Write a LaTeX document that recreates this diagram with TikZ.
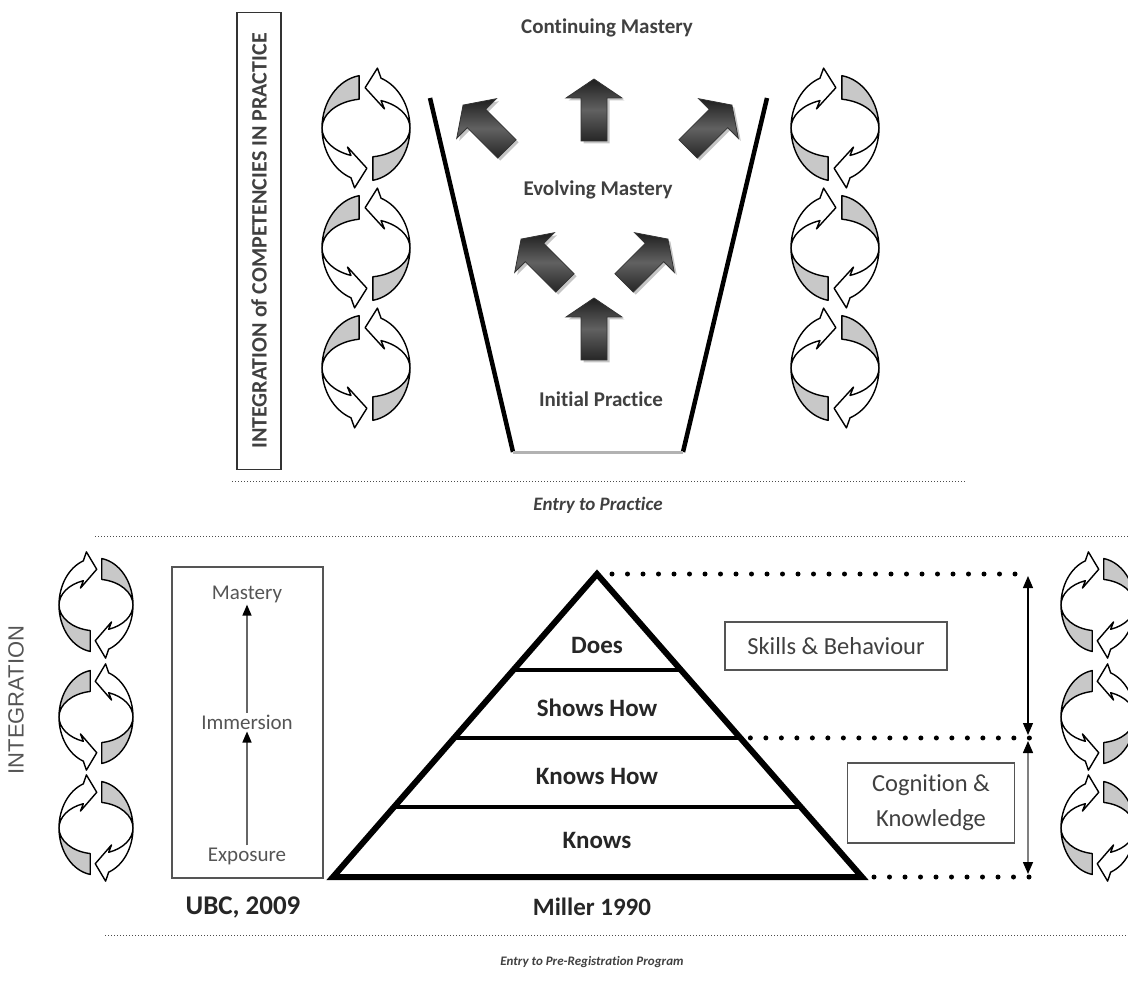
\documentclass[tikz,border=0pt]{standalone}
\usepackage{fontspec}
\setmainfont{Carlito}[Ligatures=NoCommon]
\newfontfamily\arialfont{Liberation Sans}
\usetikzlibrary{arrows.meta,calc,shadows}
\definecolor{bandgray}{RGB}{200,200,200}
\definecolor{textgray}{RGB}{64,64,64}
\definecolor{softgray}{RGB}{85,85,85}

\tikzset{
  pics/cycle/.style n args={3}{code={
    \begin{scope}[xscale=#3, x=#1pt, y=#2pt, line width=1.4pt, line join=round]
      \foreach \r in {0,180}{
        \begin{scope}[rotate=\r]
          \filldraw[fill=bandgray] (99:1) arc[start angle=99, end angle=180, radius=1]
            arc[start angle=180, end angle=99, x radius=1, y radius=0.55] -- cycle;
          \filldraw[fill=white] (180:1) arc[start angle=180, end angle=250, radius=1]
            -- (-0.26,-1.13) -- (0.02,-0.76) -- (-0.42,-0.36) -- (-0.342,-0.517)
            arc[start angle=250, end angle=180, x radius=1, y radius=0.55] -- cycle;
        \end{scope}
      }
    \end{scope}
  }},
  pics/blockarrow/.style={code={
    \begin{scope}[rotate=#1, x=1pt, y=1pt]
      \shade[top color=black!88, bottom color=black!85, middle color=black!62,
        draw=black!80, line width=0.8pt,
        drop shadow={shadow xshift=2.5pt, shadow yshift=-2.5pt, fill=black!45}]
        (-13,-31) -- (-13,12) -- (-28,12) -- (0,31) -- (28,12) -- (13,12) -- (13,-31) -- cycle;
    \end{scope}
  }}
}

\begin{document}
\begin{tikzpicture}[x=1pt, y=-1pt,
    lbl/.style={font=\fontsize{21}{25}\selectfont\bfseries, text=textgray},
    tier/.style={font=\fontsize{25}{29}\selectfont\bfseries, text=black!85},
    plain/.style={font=\fontsize{21}{25}\selectfont, text=softgray, inner sep=2pt},
    box/.style={draw=softgray, line width=1.4pt, align=center, font=\fontsize{24.5}{35}\selectfont, text=textgray},
    entry/.style={font=\fontsize{19}{23}\selectfont\bfseries\itshape, text=textgray},
    sepline/.style={dotted, line width=1pt, black!70},
    bigdots/.style={line width=5pt, line cap=round, dash pattern=on 0pt off 15.5pt}
]
\useasboundingbox (0,0) rectangle (1128,992);

% upper half: practice funnel
\node[draw=black!80, line width=1.5pt, rotate=90, minimum width=457pt, minimum height=44pt,
  font=\fontsize{22}{26}\selectfont\bfseries, text=textgray] (intbox) at (259,241)
  {INTEGRATION of COMPETENCIES IN PRACTICE};

\coordinate (ftl) at (430,98);
\coordinate (fbl) at (513,452);
\coordinate (fbr) at (683,452);
\coordinate (ftr) at (767,98);
\draw[line width=4.5pt] (ftl) -- (fbl);
\draw[line width=4.5pt] (ftr) -- (fbr);
\draw[line width=3pt, black!30] (fbl) -- (fbr);

\node[lbl] (contm) at (607,28) {Continuing Mastery};
\node[lbl] (evolm) at (598,190) {Evolving Mastery};
\node[lbl] (initp) at (601,399) {Initial Practice};

\pic at (594,110) {blockarrow=0};
\pic at (485,127) {blockarrow=45};
\pic at (710,127) {blockarrow=-45};
\pic at (543,261) {blockarrow=45};
\pic at (646,261) {blockarrow=-45};
\pic at (594,329) {blockarrow=0};

\foreach \cy in {128,248,368} {
  \pic at (366,\cy) {cycle={44}{53}{1}};
  \pic at (835,\cy) {cycle={44}{53}{-1}};
}

\coordinate (sepa) at (232,481);
\coordinate (sepb) at (965,481);
\draw[sepline] (sepa) -- (sepb);
\node[entry] (entryprac) at (598,505) {Entry to Practice};
\coordinate (sepc) at (95,536);
\coordinate (sepd) at (1128,536);
\draw[sepline] (sepc) -- (sepd);

% lower half: Miller pyramid
\node[font=\arialfont\fontsize{22}{26}\selectfont, text=softgray, rotate=90] (integ) at (16,700) {INTEGRATION};
\foreach \cy/\m in {605/-1,717/1,828/-1} {
  \pic at (96,\cy) {cycle={37}{47}{\m}};
  \pic at (1098,\cy) {cycle={37}{47}{\m}};
}

\draw[softgray, line width=1.4pt] (172,567) rectangle (323,878);
\node[plain] (mastery) at (247,594) {Mastery};
\node[plain] (immersion) at (247,722) {Immersion};
\node[plain] (exposure) at (247,856) {Exposure};
\draw[-{Triangle[length=11pt, width=9pt, color=black]}, black!60, line width=1.5pt] (exposure) -- (immersion);
\draw[-{Triangle[length=11pt, width=9pt, color=black]}, black!60, line width=1.5pt] (immersion) -- (mastery);

\coordinate (apex) at (597,574);
\coordinate (bl) at (333,877);
\coordinate (br) at (862,877);
\draw[line width=6pt] (apex) -- (br) -- (bl) -- cycle;
\foreach \t/\w in {0.317/3.5pt, 0.541/4pt, 0.769/3.5pt}
  \draw[line width=\w] ($(apex)!\t!(bl)$) -- ($(apex)!\t!(br)$);
\node[tier] (does) at (597,645) {Does};
\node[tier] (shows) at (597,708) {Shows How};
\node[tier] (knowshow) at (597,776) {Knows How};
\node[tier] (knows) at (597,840) {Knows};

\coordinate (dtop) at (1030,574);
\coordinate (dmid) at (1030,738);
\coordinate (dbot) at (1030,877);
\draw[bigdots] ($(apex)+(15,0)$) -- (dtop);
\draw[bigdots] ($(apex)!0.541!(br)+(10,0)$) -- (dmid);
\draw[bigdots] ($(br)+(12,0)$) -- (dbot);

\coordinate (ua) at (1028,576);
\coordinate (ub) at (1028,735);
\coordinate (la) at (1028,741);
\coordinate (lb) at (1028,874);
\draw[{Triangle[length=12pt, width=10pt]}-{Triangle[length=12pt, width=10pt]}, line width=1.2pt] (ua) -- (ub);
\draw[{Triangle[length=12pt, width=10pt, color=black]}-{Triangle[length=12pt, width=10pt, color=black]}, black!50, line width=1.5pt] (la) -- (lb);

\node[box, minimum width=222pt, minimum height=48pt] (skills) at (836,646) {Skills \& Behaviour};
\node[box, minimum width=167pt, minimum height=80pt] (cognition) at (931,803) {Cognition \&\\Knowledge};

\node[font=\fontsize{27}{30}\selectfont\bfseries, text=black!85] (ubc) at (243,907) {UBC, 2009};
\node[font=\fontsize{25}{28}\selectfont\bfseries, text=black!85] (miller) at (592,907) {Miller 1990};

\coordinate (sepe) at (105,935);
\coordinate (sepf) at (1128,935);
\draw[sepline] (sepe) -- (sepf);
\node[entry, font=\fontsize{13}{16}\selectfont\bfseries\itshape] (entrypre) at (592,962) {Entry to Pre-Registration Program};
\end{tikzpicture}
\end{document}
